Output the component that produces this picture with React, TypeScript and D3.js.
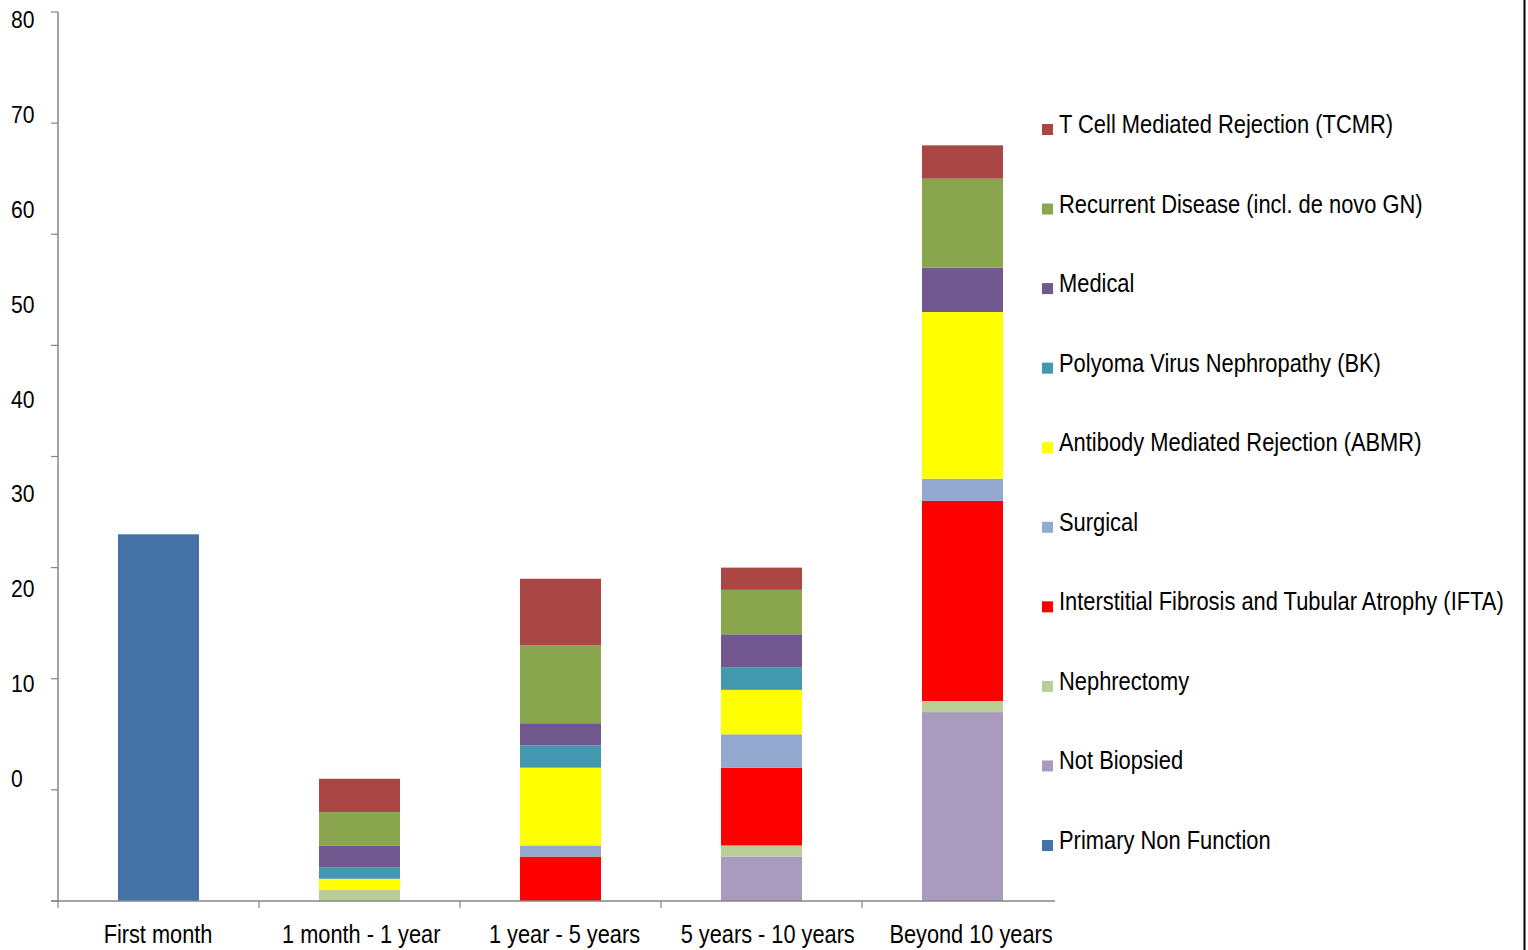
import React from "react";
import * as d3 from "d3";

const categories = ["First month", "1 month - 1 year", "1 year - 5 years", "5 years - 10 years", "Beyond 10 years"];

// stacking order bottom -> top
const seriesNames = [
  "Primary Non Function",
  "Not Biopsied",
  "Nephrectomy",
  "Interstitial Fibrosis and Tubular Atrophy (IFTA)",
  "Surgical",
  "Antibody Mediated Rejection (ABMR)",
  "Polyoma Virus Nephropathy (BK)",
  "Medical",
  "Recurrent Disease (incl. de novo GN)",
  "T Cell Mediated Rejection (TCMR)",
];
const seriesColors = ["#4572A7", "#A99BBD", "#B9CD96", "#FF0000", "#93A9CF", "#FFFF00", "#4198AF", "#71588F", "#89A54E", "#AA4643"];

const primaryNonFunction = [33, 0, 0, 0, 0];
const notBiopsied = [0, 0, 0, 4, 17];
const nephrectomy = [0, 1, 0, 1, 1];
const ifta = [0, 0, 4, 7, 18];
const surgical = [0, 0, 1, 3, 2];
const abmr = [0, 1, 7, 4, 15];
const bk = [0, 1, 2, 2, 0];
const medical = [0, 2, 2, 3, 4];
const recurrent = [0, 3, 7, 4, 8];
const tcmr = [0, 3, 6, 2, 3];

const seriesValues = [primaryNonFunction, notBiopsied, nephrectomy, ifta, surgical, abmr, bk, medical, recurrent, tcmr];

const yTickValues = [0, 10, 20, 30, 40, 50, 60, 70, 80];
const yTickLabels = ["0", "10", "20", "30", "40", "50", "60", "70", "80"];

const FONT = "'Liberation Sans', Arial, sans-serif";

function NarrowText(props: { x: number; y: number; size: number; sx: number; anchor?: string; children: React.ReactNode }) {
  const { x, y, size, sx, anchor, children } = props;
  return (
    <text
      transform={`translate(${x},${y}) scale(${sx},1)`}
      textAnchor={anchor || "start"}
      fontFamily={FONT}
      fontSize={size}
      fill="#000"
    >
      {children}
    </text>
  );
}

export default function App() {
  const width = 1528;
  const height = 950;
  const x = d3.scaleBand<string>().domain(categories).range([58, 1063]).paddingInner(0).paddingOuter(0);
  const y = d3.scaleLinear().domain([0, 80]).range([901, 12]);
  // tick labels as drawn in the source (offset from the tick marks)
  const yLabel = d3.scaleLinear().domain([0, 80]).range([787, 28]);
  // category labels as drawn in the source (slightly drifting from bar centres)
  const xLabel = d3.scalePoint<string>().domain(categories).range([158, 971]);
  const barW = 81;

  const table = categories.map((c, i) => {
    const row: any = { cat: c };
    seriesNames.forEach((s, j) => (row[s] = seriesValues[j][i]));
    return row;
  });
  const stacked = d3.stack<any>().keys(seriesNames)(table);

  const legendOrder = [...seriesNames].reverse();
  const legendColors = [...seriesColors].reverse();
  const legendY = d3.scaleLinear().domain([0, 9]).range([133, 849]);

  return (
    <svg width={width} height={height} style={{ position: "absolute", left: 0, top: 0, background: "#fff" }}>
      <rect x={0} y={0} width={width} height={height} fill="#fff" />
      {/* bars */}
      {stacked.map((layer, j) => (
        <g key={layer.key}>
          {layer.map((d, i) => {
            const h = y(d[0]) - y(d[1]);
            if (h <= 0) return null;
            const cx = (x(categories[i]) as number) + x.bandwidth() / 2;
            return <rect key={i} x={cx - barW / 2} y={y(d[1])} width={barW} height={h} fill={seriesColors[j]} />;
          })}
        </g>
      ))}
      {/* y axis */}
      <line x1={58} x2={58} y1={12} y2={901} stroke="#868686" strokeWidth={1.5} />
      {yTickValues.map((v) => (
        <line key={v} x1={51} x2={58} y1={y(v)} y2={y(v)} stroke="#868686" strokeWidth={1.2} />
      ))}
      {yTickValues.map((v, i) => (
        <NarrowText key={"l" + v} x={11} y={yLabel(v)} size={24} sx={0.88}>
          {yTickLabels[i]}
        </NarrowText>
      ))}
      {/* x axis */}
      <line x1={51} x2={1055} y1={901} y2={901} stroke="#868686" strokeWidth={1.5} />
      {categories.map((c) => (
        <line key={"t" + c} x1={x(c)} x2={x(c)} y1={901} y2={908} stroke="#868686" strokeWidth={1.2} />
      ))}
      {categories.map((c) => (
        <NarrowText key={"c" + c} x={xLabel(c) as number} y={943} size={25} sx={0.87} anchor="middle">
          {c}
        </NarrowText>
      ))}
      {/* legend */}
      {legendOrder.map((s, i) => (
        <g key={"lg" + s}>
          <rect x={1042} y={legendY(i) - 9} width={11} height={11} fill={legendColors[i]} />
          <NarrowText x={1059} y={legendY(i)} size={26.5} sx={0.826}>
            {s}
          </NarrowText>
        </g>
      ))}
      {/* right border */}
      <line x1={1524.5} x2={1524.5} y1={0} y2={950} stroke="#000" strokeWidth={2} />
    </svg>
  );
}
